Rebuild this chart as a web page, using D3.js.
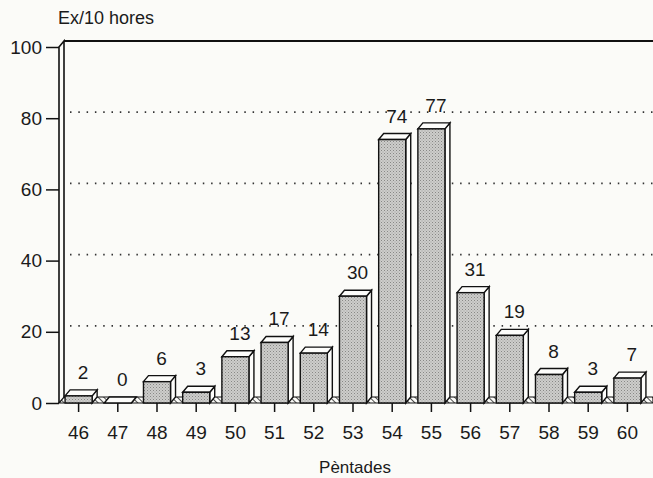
<!DOCTYPE html>
<html lang="ca">
<head>
<meta charset="UTF-8">
<title>Ex/10 hores per pèntades</title>
<script src="https://d3js.org/d3.v7.min.js"></script>
<style>
    body { margin: 0; background: #fbfbf8; }
    svg { display: block; }
    text { font-family: "Liberation Sans", Arial, sans-serif; fill: #1a1a1a; }
    .axis path { display: none; }
    .axis line { stroke: #111; stroke-width: 1.5; }
    .axis text { font-size: 19px; }
</style>
</head>
<body>
<script>
// data
const pentades = ["46", "47", "48", "49", "50", "51", "52", "53", "54", "55", "56", "57", "58", "59", "60"];
const values = [2, 0, 6, 3, 13, 17, 14, 30, 74, 77, 31, 19, 8, 3, 7];
const yTicks = [0, 20, 40, 60, 80, 100];
const gridTicks = [20, 40, 60, 80];

const W = 653, H = 478;
const plotLeft = 59, plotBase = 403, plotTop = 47;
const dx = 5, dy = -6; // 3D depth offset

const svg = d3.select("body").append("svg")
    .attr("width", W)
    .attr("height", H);

svg.append("rect").attr("width", W).attr("height", H).attr("fill", "#fbfbf8");

const defs = svg.append("defs");
// stipple for bar fronts
const stip = defs.append("pattern").attr("id", "stip")
    .attr("patternUnits", "userSpaceOnUse").attr("width", 3).attr("height", 3);
stip.append("rect").attr("width", 3).attr("height", 3).attr("fill", "#cdcdcb");
stip.append("rect").attr("x", 0).attr("y", 0).attr("width", 1).attr("height", 1).attr("fill", "#888886");
stip.append("rect").attr("x", 1.5).attr("y", 1.5).attr("width", 1).attr("height", 1).attr("fill", "#a0a09e");
// hatch for the floor
const hatch = defs.append("pattern").attr("id", "hatch")
    .attr("patternUnits", "userSpaceOnUse").attr("width", 4).attr("height", 4)
    .attr("patternTransform", "rotate(-45)");
hatch.append("rect").attr("width", 4).attr("height", 4).attr("fill", "#fbfbf8");
hatch.append("line").attr("x1", 0).attr("y1", 0).attr("x2", 0).attr("y2", 4)
    .attr("stroke", "#222").attr("stroke-width", 1.6);

const x = d3.scaleBand().domain(pentades).range([plotLeft, plotLeft + 15 * 39.2]).paddingInner(0.31).paddingOuter(0.155);
const y = d3.scaleLinear().domain([0, 100]).range([plotBase, plotTop]);

// back wall gridlines (dotted)
svg.selectAll(".grid").data(gridTicks).join("line")
    .attr("x1", plotLeft + dx + 6).attr("x2", W)
    .attr("y1", d => y(d) + dy).attr("y2", d => y(d) + dy)
    .attr("stroke", "#333").attr("stroke-width", 1.7)
    .attr("stroke-dasharray", "1.5,6.8");

// top frame line + left walls
svg.append("line").attr("x1", plotLeft + dx).attr("x2", W)
    .attr("y1", y(100) + dy).attr("y2", y(100) + dy)
    .attr("stroke", "#111").attr("stroke-width", 1.8);
svg.append("path")
    .attr("d", `M${plotLeft},${plotBase} V${y(100)} L${plotLeft + dx},${y(100) + dy} V${plotBase + dy}`)
    .attr("fill", "none").attr("stroke", "#111").attr("stroke-width", 1.6);

// floor strip
svg.append("path")
    .attr("d", `M${plotLeft},${plotBase} L${plotLeft + dx},${plotBase + dy} H${W} V${plotBase} Z`)
    .attr("fill", "url(#hatch)").attr("stroke", "#111").attr("stroke-width", 1.2);

// bars
const bw = x.bandwidth();
const bars = svg.selectAll(".bar").data(pentades).join("g").attr("class", "bar");
bars.append("path") // side
    .attr("d", (d, i) => {
        const x1 = x(d) + bw, yt = y(values[i]);
        return `M${x1},${plotBase} L${x1 + dx},${plotBase + dy} V${yt + dy} L${x1},${yt} Z`;
    })
    .attr("fill", "#fdfdfb").attr("stroke", "#111").attr("stroke-width", 1.4);
bars.append("path") // top
    .attr("d", (d, i) => {
        const x0 = x(d), yt = y(values[i]);
        return `M${x0},${yt} L${x0 + dx},${yt + dy} H${x0 + bw + dx} L${x0 + bw},${yt} Z`;
    })
    .attr("fill", "#fdfdfb").attr("stroke", "#111").attr("stroke-width", 1.4);
bars.append("rect") // front
    .attr("x", d => x(d))
    .attr("y", (d, i) => y(values[i]))
    .attr("width", bw)
    .attr("height", (d, i) => plotBase - y(values[i]))
    .attr("fill", "url(#stip)").attr("stroke", "#111").attr("stroke-width", 1.4);

// value labels
svg.selectAll(".val").data(pentades).join("text")
    .attr("x", d => x(d) + bw / 2 + dx / 2 + 2)
    .attr("y", (d, i) => y(values[i]) + dy - 11)
    .attr("text-anchor", "middle")
    .attr("font-size", 19)
    .text((d, i) => values[i]);

// axes
const ax = svg.append("g").attr("class", "axis")
    .attr("transform", `translate(0,${plotBase})`)
    .call(d3.axisBottom(x).tickSize(9).tickPadding(14));
ax.selectAll("text").attr("dy", "0.71em");

svg.append("g").attr("class", "axis")
    .attr("transform", `translate(${plotLeft},0)`)
    .call(d3.axisLeft(y).tickValues(yTicks).tickSize(13).tickPadding(4));

// titles
svg.append("text").attr("x", 58).attr("y", 24).attr("font-size", 18).text("Ex/10 hores");
svg.append("text").attr("x", 355).attr("y", 473).attr("text-anchor", "middle")
    .attr("font-size", 17).text("Pèntades");
</script>
</body>
</html>
